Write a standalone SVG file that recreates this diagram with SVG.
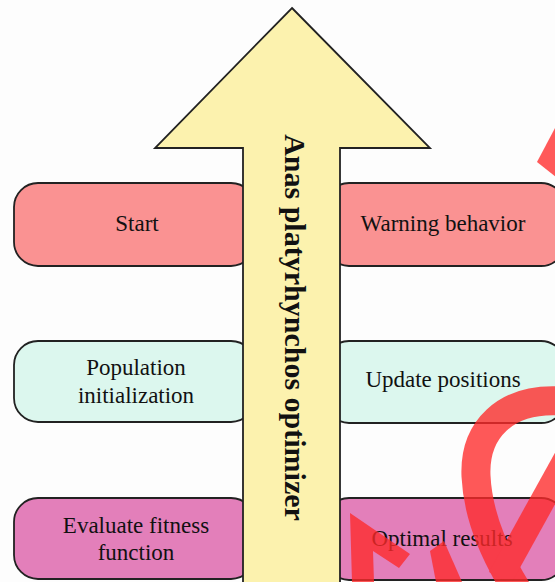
<svg xmlns="http://www.w3.org/2000/svg" width="555" height="582" viewBox="0 0 555 582">
<style>
.box{stroke:#222;stroke-width:1.8}
.r1{fill:#fa9292}
.r2{fill:#dcf7ee}
.r3{fill:#e37fba}
.lbl{font-family:"Liberation Serif","Times New Roman",serif;font-size:23px;fill:#111;text-anchor:middle}
.wm{fill:#ff2a2a}
.wms{fill:none;stroke:#ff2a2a}
</style>
<rect width="555" height="582" fill="#fdfdfd"/>
<g id="start"><rect class="box r1" x="14" y="183" width="241" height="83" rx="24"/><text class="lbl" x="137" y="231">Start</text></g>
<g id="warning"><rect class="box r1" x="325" y="183" width="240" height="83" rx="24"/><text class="lbl" x="443" y="231">Warning behavior</text></g>
<g id="population"><rect class="box r2" x="14" y="341" width="241" height="81" rx="24"/><text class="lbl" x="136" y="375">Population</text><text class="lbl" x="136" y="403">initialization</text></g>
<g id="update"><rect class="box r2" x="325" y="341" width="240" height="82" rx="24"/><text class="lbl" x="443" y="387">Update positions</text></g>
<g id="evaluate"><rect class="box r3" x="14" y="498" width="241" height="81" rx="24"/><text class="lbl" x="136" y="533">Evaluate fitness</text><text class="lbl" x="136" y="560">function</text></g>
<g id="optimal"><rect class="box r3" x="325" y="498" width="240" height="82" rx="24"/><text class="lbl" x="442" y="546">Optimal results</text></g>
<g id="connectors">
<g id="arrow"><path d="M292,8 L430,148 L340,148 L340,590 L243,590 L243,148 L155,148 Z" fill="#fcf2ae" stroke="#222" stroke-width="1.8" stroke-linejoin="miter"/>
<text transform="translate(285,327.5) rotate(90)" font-family="'Liberation Serif','Times New Roman',serif" font-size="30" font-weight="bold" fill="#111" text-anchor="middle">Anas platyrhynchos optimizer</text></g>
</g>
<g id="watermark" opacity="0.78">
<polygon class="wm" points="537,162 556,126 556,177"/>
<path class="wms" d="M560,401 C505,398 474,430 476,476 C478,520 498,560 520,595" stroke-width="29"/>
<path class="wms" d="M500,578 L568,455" stroke-width="25"/>
<polygon class="wm" points="350,513 410,554 399,568 373,551 374,582 352,582"/>
<polygon class="wm" points="430,551 444,541 462,582 436,582"/>
</g>
</svg>
